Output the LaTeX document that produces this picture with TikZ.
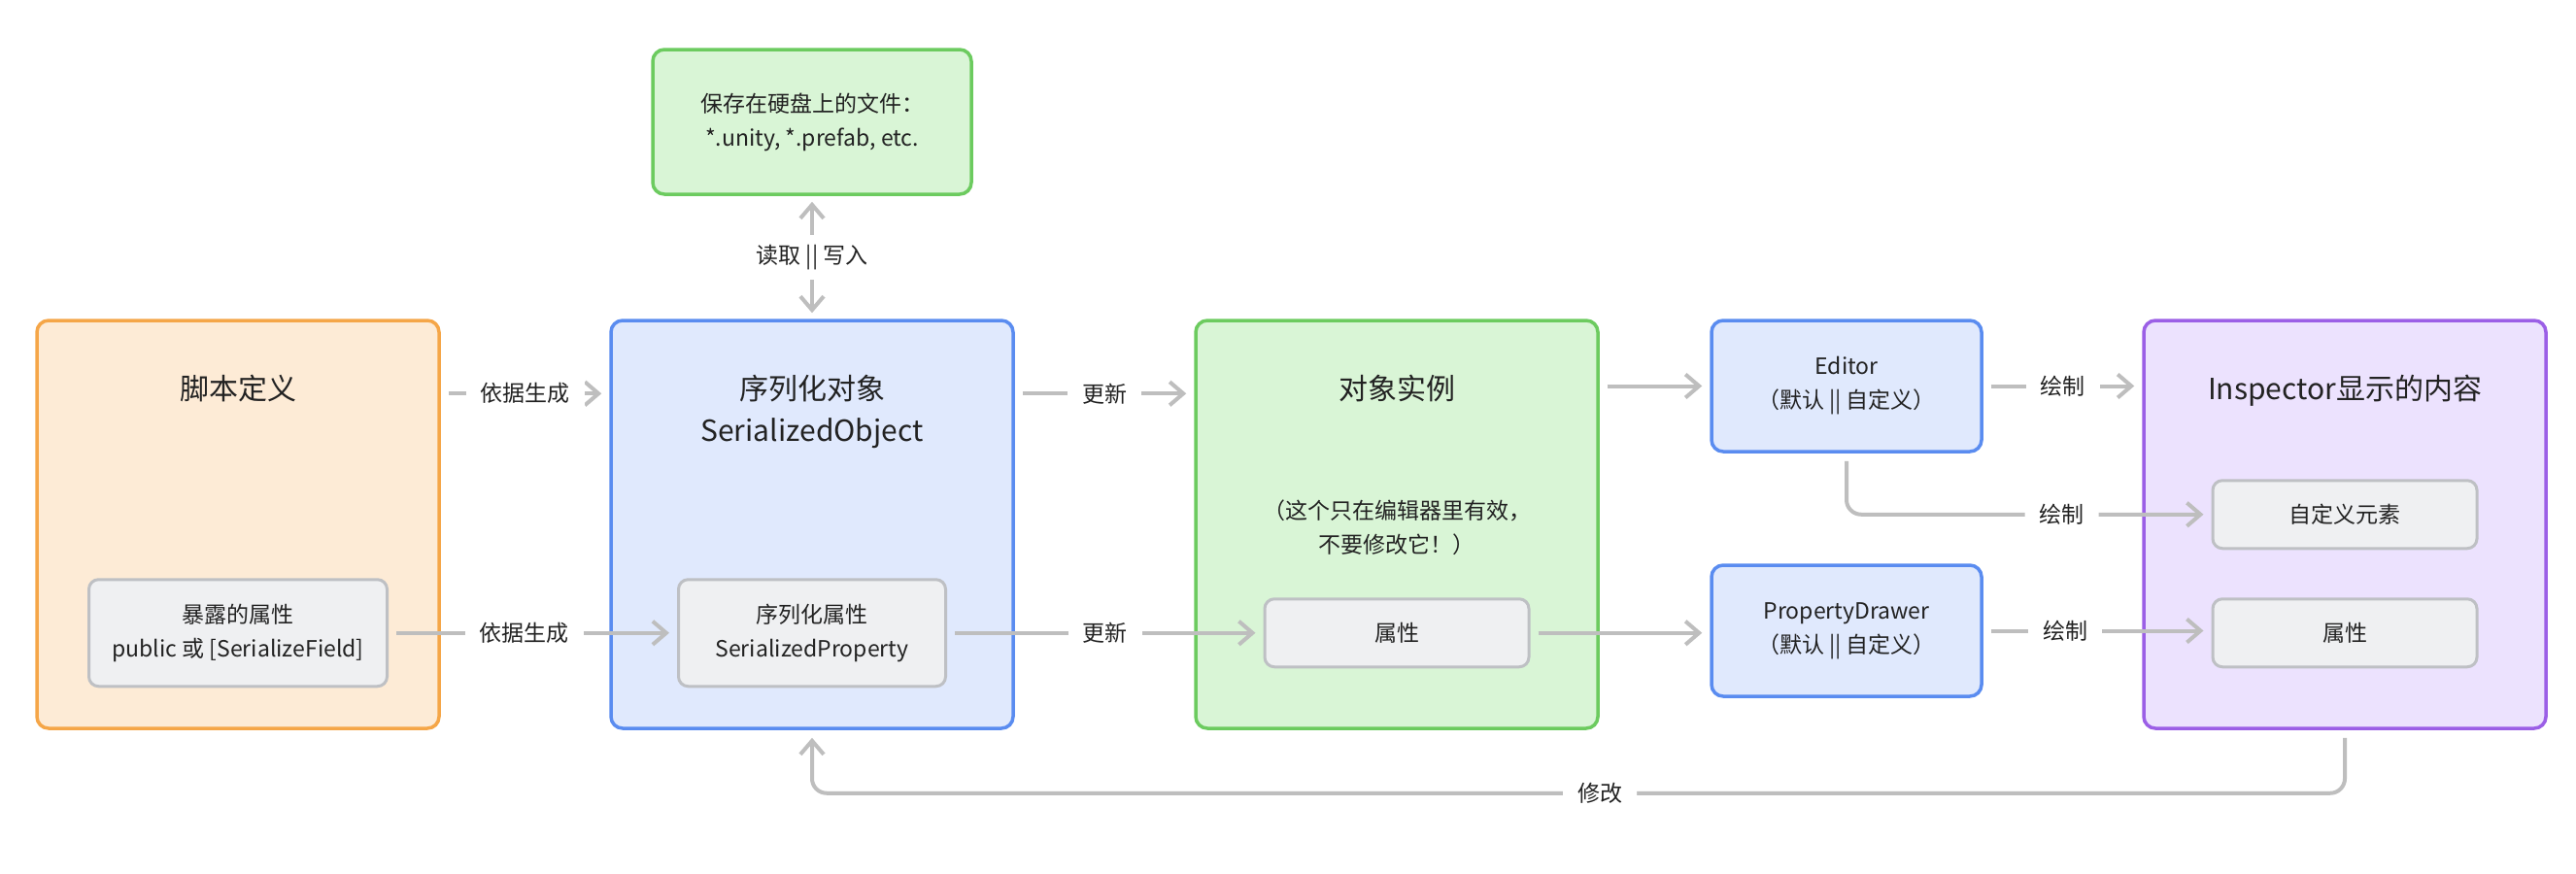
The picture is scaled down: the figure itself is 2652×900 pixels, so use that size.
\documentclass[tikz,border=0pt]{standalone}
\usepackage{fontspec}
\setmainfont{Noto Sans CJK SC}
\usetikzlibrary{arrows.meta, positioning}

\definecolor{orangefill}{HTML}{FDEBD6}
\definecolor{orangeline}{HTML}{F5A648}
\definecolor{bluefill}{HTML}{E0E9FD}
\definecolor{blueline}{HTML}{5A8CF0}
\definecolor{greenfill}{HTML}{D9F5D6}
\definecolor{greenline}{HTML}{6CCB5F}
\definecolor{purplefill}{HTML}{ECE2FE}
\definecolor{purpleline}{HTML}{9B5FE6}
\definecolor{grayfill}{HTML}{EFF0F2}
\definecolor{grayline}{HTML}{BEC0C4}
\definecolor{arrowgray}{HTML}{BEBEBE}
\definecolor{textdark}{HTML}{222222}

\newcommand\ttlsize{\fontsize{15}{21.5}\selectfont}
\newcommand\lblsize{\fontsize{11.5}{17.5}\selectfont}

\begin{document}
\begin{tikzpicture}[
      x=0.5pt, y=-0.5pt,
      box/.style={rectangle, draw, rounded corners=6pt, line width=1.75pt, align=center, font=\lblsize, text=textdark},
      bigbox/.style={box, minimum width=207pt, minimum height=210pt},
      scriptbox/.style={bigbox, fill=orangefill, draw=orangeline},
      serialbox/.style={bigbox, fill=bluefill, draw=blueline},
      instbox/.style={bigbox, fill=greenfill, draw=greenline},
      inspbox/.style={bigbox, fill=purplefill, draw=purpleline},
      drawerbox/.style={box, fill=bluefill, draw=blueline, minimum width=139pt, minimum height=67.5pt},
      filebox/.style={box, fill=greenfill, draw=greenline, minimum width=164pt, minimum height=74.5pt},
      field/.style={box, fill=grayfill, draw=grayline, line width=1.5pt, rounded corners=5pt},
      title/.style={font=\ttlsize, align=center, inner sep=0pt, text=textdark},
      note/.style={font=\lblsize, align=center, inner sep=0pt, text=textdark},
      arrow/.style={-{Straight Barb[length=7pt, width=12pt]}, line width=2pt, draw=arrowgray, shorten <=4pt, shorten >=4pt},
      biarrow/.style={arrow, {Straight Barb[length=7pt, width=12pt]}-{Straight Barb[length=7pt, width=12pt]}},
      lbl/.style={font=\lblsize, fill=white, inner xsep=7.5pt, inner ysep=5pt, text=textdark}
    ]
      \fill[white] (0,0) rectangle (2652,900);
      \useasboundingbox (0,0) rectangle (2652,900);

      \node[scriptbox] (script) at (245,540) {};
      \node[serialbox, right=86.75pt of script] (serobj) {};
      \node[instbox, right=92.25pt of serobj] (inst) {};
      \node[drawerbox, right=56.75pt of inst.north east, anchor=north west] (editor) {Editor\\（默认 || 自定义）};
      \node[drawerbox, below=56.75pt of editor] (pdrawer) {PropertyDrawer\\（默认 || 自定义）};
      \node[inspbox, right=81.75pt of editor.north east, anchor=north west] (insp) {};
      \node[filebox, above=63.25pt of serobj] (file) {保存在硬盘上的文件：\\{}*.unity, *.prefab, etc.};

      \node[title, below=28.5pt of script.north] (scripttitle) {脚本定义};
      \node[title, below=28.5pt of serobj.north] (serobjtitle) {序列化对象\\SerializedObject};
      \node[title, below=28.5pt of inst.north] (insttitle) {对象实例};
      \node[title, below=28.5pt of insp.north] (insptitle) {Inspector显示的内容};
      \node[note] (instnote) at ([yshift=-107.5pt]inst.north) {（这个只在编辑器里有效，\\不要修改它！）};

      \node[field, minimum width=153.5pt, minimum height=55pt] (exposed) at ([yshift=50pt]script.south) {暴露的属性\\public 或 [SerializeField]};
      \node[field, minimum width=137.5pt, minimum height=55pt] (serprop) at ([yshift=50pt]serobj.south) {序列化属性\\SerializedProperty};
      \node[field, minimum width=136pt, minimum height=35pt] (gattr) at ([yshift=50pt]inst.south) {属性};
      \node[field, minimum width=136pt, minimum height=35pt] (pattr) at ([yshift=50pt]insp.south) {属性};
      \node[field, minimum width=136pt, minimum height=35pt, above=24.5pt of pattr] (custom) {自定义元素};

      \draw[arrow] ([yshift=-38.5pt]script.north east) -- node[lbl] {依据生成} ([yshift=-38.5pt]serobj.north west);
      \draw[arrow] ([yshift=-38.5pt]serobj.north east) -- node[lbl] {更新} ([yshift=-38.5pt]inst.north west);
      \draw[biarrow, shorten <=3pt, shorten >=3pt] (serobj) -- node[lbl] {读取 || 写入} (file);
      \draw[arrow] (exposed) -- node[lbl, pos=0.47] {依据生成} (serprop);
      \draw[arrow] (serprop) -- node[lbl] {更新} (gattr);
      \draw[arrow] (inst.east |- editor.west) -- (editor.west);
      \draw[arrow] (gattr.east) -- (gattr.east -| pdrawer.west);
      \draw[arrow] (editor.east) -- node[lbl] {绘制} (editor.east -| insp.west);
      \draw[arrow, rounded corners=7.5pt] (editor.south) |- node[lbl, pos=0.795] {绘制} (custom.west);
      \draw[arrow] (pdrawer.east) -- node[lbl, pos=0.36] {绘制} (pdrawer.east -| pattr.west);
      \draw[arrow, rounded corners=7.5pt] (insp.south) -- ++(0,65) -| node[lbl, pos=0.243] {修改} (serobj.south);
    \end{tikzpicture}
\end{document}
